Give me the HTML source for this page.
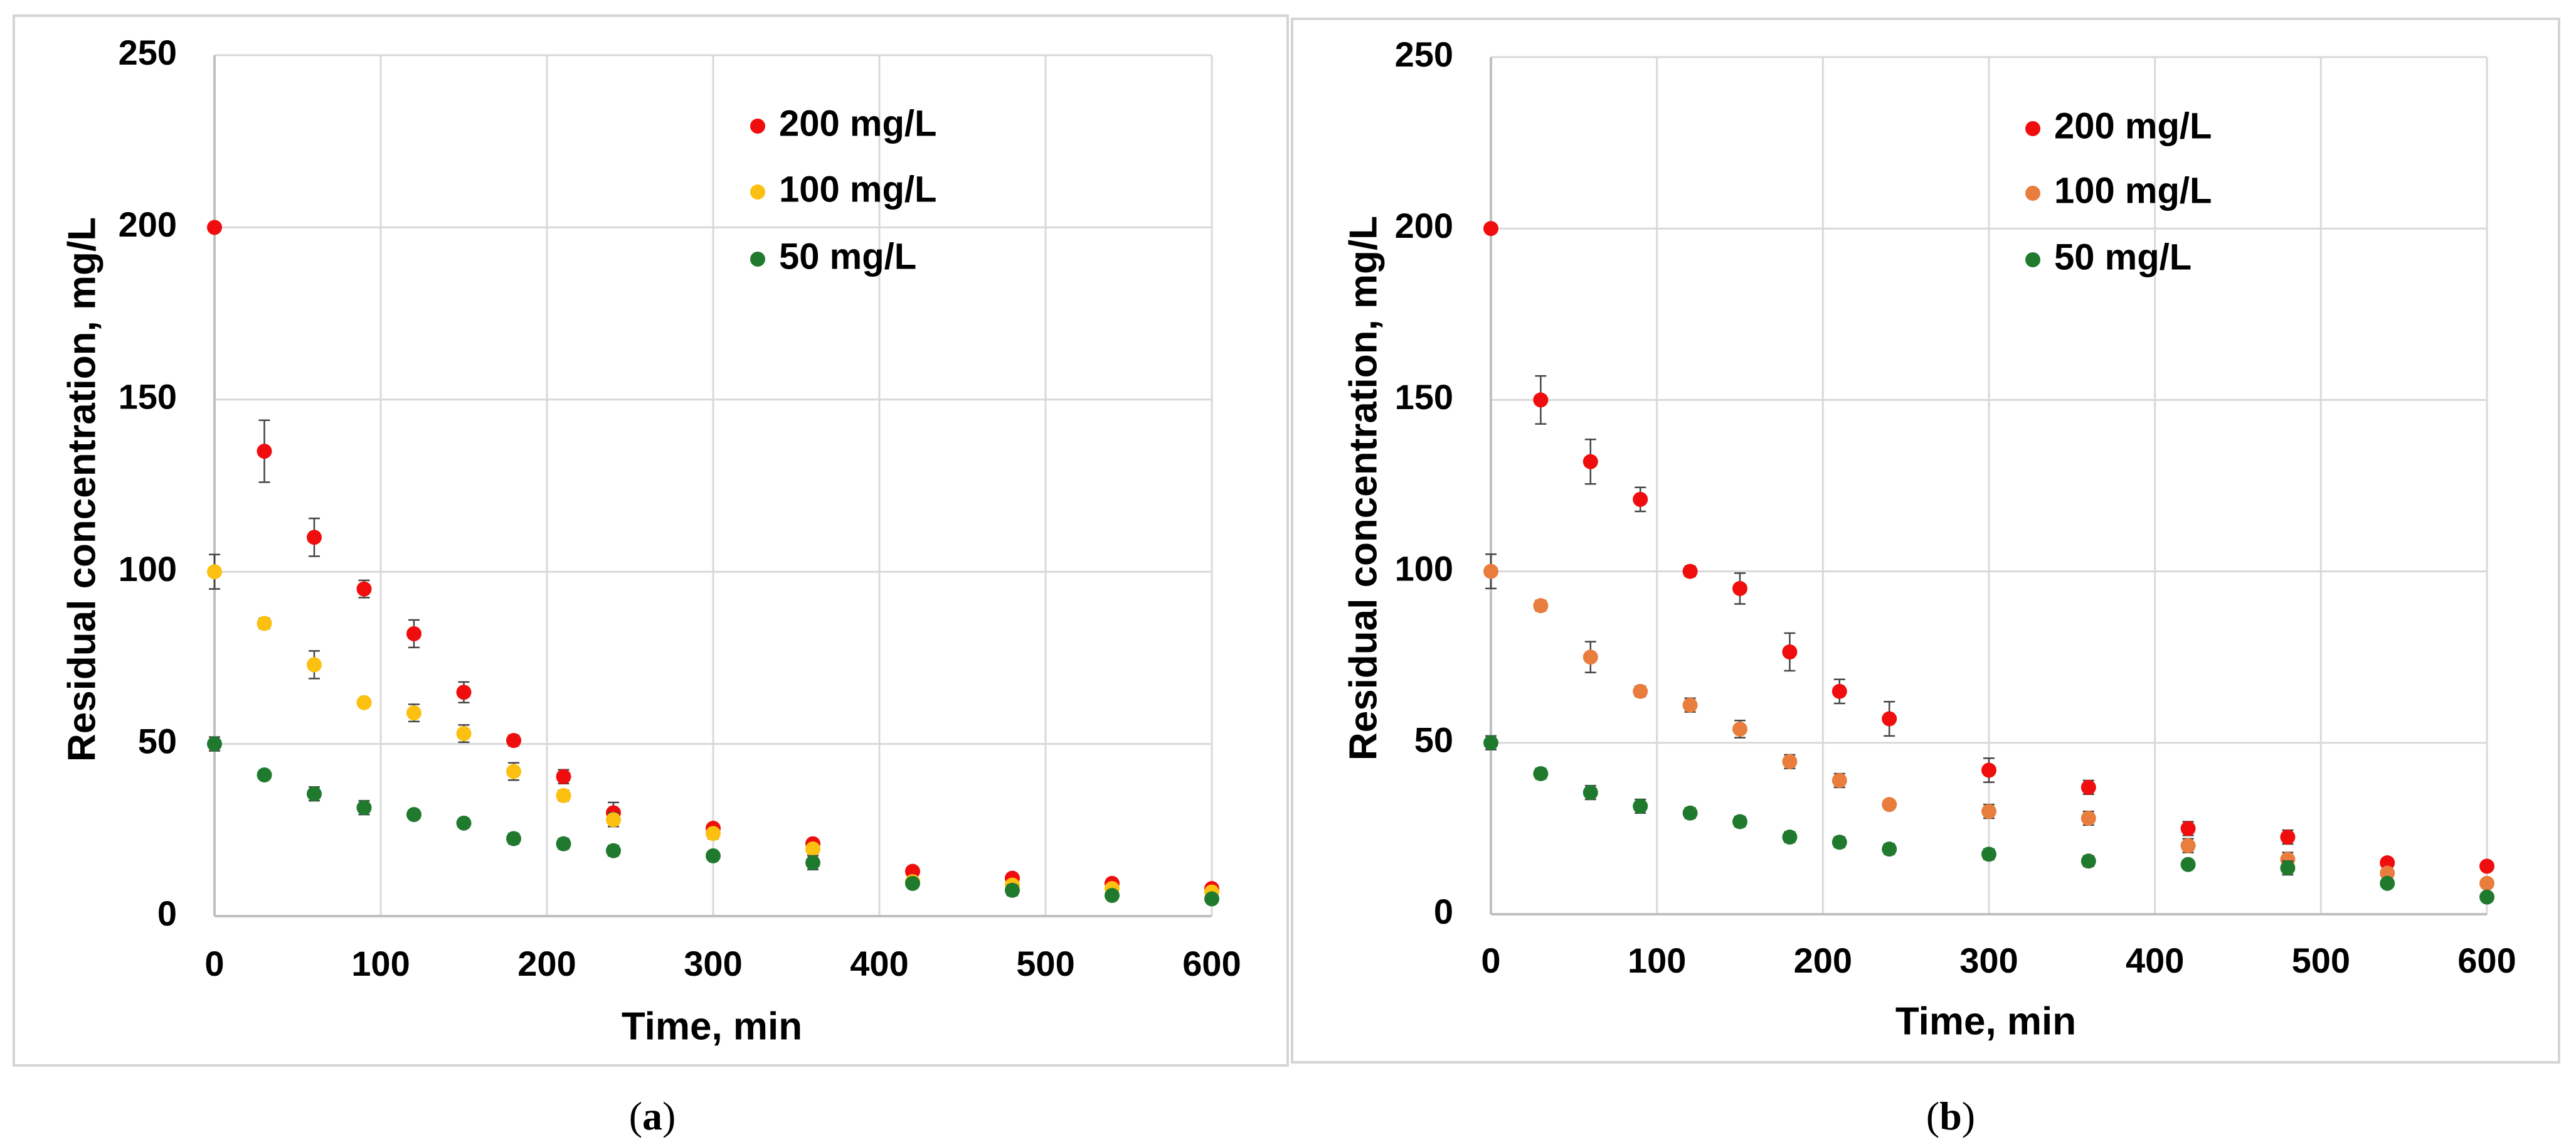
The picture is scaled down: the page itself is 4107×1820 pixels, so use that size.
<!DOCTYPE html>
<html><head><meta charset="utf-8">
<style>
html,body{margin:0;padding:0;background:#fff;}
svg{display:block;}
text{font-family:"Liberation Sans",sans-serif;font-weight:bold;fill:#000;}
</style></head>
<body>
<svg id="fig" width="4107" height="1820" viewBox="0 0 4107 1820" xmlns="http://www.w3.org/2000/svg">
<rect x="22" y="25" width="2031" height="1673" fill="#fff" stroke="#d4d4d4" stroke-width="4"/>
<rect x="2060" y="30" width="2020" height="1663" fill="#fff" stroke="#d4d4d4" stroke-width="4"/>
<text x="1040" y="1800" font-size="64" text-anchor="middle" style="font-family:'Liberation Serif',serif;font-weight:normal">(<tspan font-weight="bold">a</tspan>)</text>
<text x="3110" y="1800" font-size="64" text-anchor="middle" style="font-family:'Liberation Serif',serif;font-weight:normal">(<tspan font-weight="bold">b</tspan>)</text>
</svg>
<script>
const times = [0,30,60,90,120,150,180,210,240,300,360,420,480,540,600];
const a200 = [200,135,110,95,82,65,51,40.5,30,25.5,21,13,11,9.5,8];
const a200Err = [0,9,5.5,2.5,4,3,1.5,2,3,1,1,1,1,1,1];
const a100 = [100,85,73,62,59,53,42,35,28,24,19.5,10,9,8,7];
const a100Err = [5,1.5,4,1,2.5,2.5,2.5,1.5,2,1.5,1.5,1,1,1,1];
const a50 = [50,41,35.5,31.5,29.5,27,22.5,21,19,17.5,15.5,9.5,7.5,6,5];
const a50Err = [2,1,2,2,1,1,1.5,1.5,1.5,1,2,1,1.5,1,1];
const b200 = [200,150,132,121,100,95,76.5,65,57,42,37,25,22.5,15,14];
const b200Err = [0,7,6.5,3.5,1.5,4.5,5.5,3.5,5,3.5,2,2,2,1,1];
const b100 = [100,90,75,65,61,54,44.5,39,32,30,28,20,16,12,9];
const b100Err = [5,1.5,4.5,1.5,2,2.5,2,2,1,2,2,2,2,1,1];
const b50 = [50,41,35.5,31.5,29.5,27,22.5,21,19,17.5,15.5,14.5,13.5,9,5];
const b50Err = [2,1.5,2,2,1.5,1.5,1.5,1.5,1.5,1.5,1.5,1,2,1,1];
const xTicks = [0,100,200,300,400,500,600];
const yTicks = [0,50,100,150,200,250];
const legendLabels = ['200 mg/L','100 mg/L','50 mg/L'];

const NS='http://www.w3.org/2000/svg';
const svg=document.getElementById('fig');
function mk(tag,attrs,parent){const e=document.createElementNS(NS,tag);for(const k in attrs)e.setAttribute(k,attrs[k]);(parent||svg).appendChild(e);return e;}

function panel(p){
  const g=mk('g',{});
  
  
  const sx=v=>p.x0+(v-0)/600*(p.x1-p.x0);
  const sy=v=>p.y1-(v-0)/250*(p.y1-p.y0);
  xTicks.forEach(t=>{
    const l=mk('line',{x1:sx(t),x2:sx(t),y1:p.y0,y2:p.y1,stroke:'#d9d9d9','stroke-width':3},g);
    
    
    const tx=mk('text',{x:sx(t),y:p.xLabY,'font-size':56,'text-anchor':'middle','dominant-baseline':'middle'},g);
    tx.textContent=t;
    
    
  });
  yTicks.forEach(t=>{
    const l=mk('line',{x1:p.x0,x2:p.x1,y1:sy(t),y2:sy(t),stroke:'#d9d9d9','stroke-width':3},g);
    
    
    const tx=mk('text',{x:p.x0-60,y:sy(t),'font-size':56,'text-anchor':'end','dominant-baseline':'middle'},g);
    tx.textContent=t;
    
    
  });
  const ax=mk('line',{x1:p.x0,x2:p.x1,y1:p.y1,y2:p.y1,stroke:'#bfbfbf','stroke-width':4},g);
  
  
  const ay=mk('line',{x1:p.x0,x2:p.x0,y1:p.y0,y2:p.y1,stroke:'#bfbfbf','stroke-width':4},g);
  
  
  const xt=mk('text',{x:p.xtX,y:p.xtY,'font-size':62,'text-anchor':'middle','dominant-baseline':'middle'},g);
  xt.textContent='Time, min';
  
  
  const yt=mk('text',{x:0,y:0,'font-size':62,'text-anchor':'middle','dominant-baseline':'middle',transform:`translate(${p.ytX},${p.ytY}) rotate(-90)`},g);
  yt.textContent='Residual concentration,  mg/L';
  
  
  p.series.forEach((s,si)=>{
    const sg=mk('g',{},g);
    
    
    times.forEach((t,i)=>{
      const cx=sx(t),cy=sy(s.vals[i]),e=s.err[i];
      if(e>0){
        const eb=mk('path',{d:`M${cx},${sy(s.vals[i]+e)}V${sy(s.vals[i]-e)}M${cx-9},${sy(s.vals[i]+e)}H${cx+9}M${cx-9},${sy(s.vals[i]-e)}H${cx+9}`,stroke:'#444','stroke-width':2.5,fill:'none'},sg);
        
        
      }
      const c=mk('circle',{cx:cx,cy:cy,r:12,fill:s.color},sg);
      
      
    });
    const ly=p.legY[si];
    const lc=mk('circle',{cx:p.legX,cy:ly,r:12,fill:s.color},g);
    
    
    const lt=mk('text',{x:p.legX+34,y:ly,'font-size':58,'dominant-baseline':'middle'},g);
    lt.textContent=legendLabels[si];
    
    
  });
}
panel({id:'panel-a',x0:342,x1:1932,y0:88,y1:1460,xLabY:1540,xtX:1135,xtY:1640,ytX:135,ytY:780,legX:1208,legY:[201,306,413],
  series:[{name:'200',vals:a200,err:a200Err,color:'#f00d0d'},{name:'100',vals:a100,err:a100Err,color:'#fcc010'},{name:'50',vals:a50,err:a50Err,color:'#1f7a2e'}]});
panel({id:'panel-b',x0:2377,x1:3965,y0:91,y1:1457,xLabY:1535,xtX:3166,xtY:1632,ytX:2178,ytY:778,legX:3241,legY:[205,308,414],
  series:[{name:'200',vals:b200,err:b200Err,color:'#f00d0d'},{name:'100',vals:b100,err:b100Err,color:'#e87d3e'},{name:'50',vals:b50,err:b50Err,color:'#1f7a2e'}]});
</script>
</body></html>
